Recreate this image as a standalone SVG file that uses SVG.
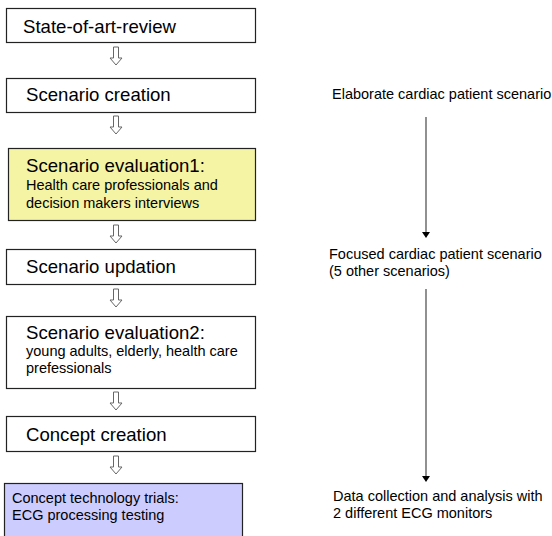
<svg xmlns="http://www.w3.org/2000/svg" width="552" height="536" viewBox="0 0 552 536">
<defs>
<style>
.box{stroke:#222;stroke-width:1.2}
.t{font-family:"Liberation Sans",Arial,sans-serif;fill:#000}
.big{font-size:18.6px}
.sm{font-size:14.5px}
.hol{fill:#fff;stroke:#666;stroke-width:1}
.con{stroke:#555;stroke-width:1.3;fill:none}
</style>
<path id="ha" d="M-2.5,0 H2.5 V11 H6 L0,18 L-6,11 H-2.5 Z"/>
</defs>
<rect width="552" height="536" fill="#fff"/>
<g id="n1"><rect class="box" x="6.5" y="8.5" width="249" height="34" fill="#fff"/><text class="t big" x="23" y="33">State-of-art-review</text></g>
<g id="n2"><rect class="box" x="6.5" y="78.5" width="249" height="34" fill="#fff"/><text class="t big" x="26" y="101">Scenario creation</text></g>
<g id="n3"><rect class="box" x="8.5" y="148.5" width="247" height="72" fill="#F4F4A4"/><text class="t big" x="26" y="172">Scenario evaluation1:</text><text class="t sm" x="26" y="190">Health care professionals and</text><text class="t sm" x="26" y="208">decision makers interviews</text></g>
<g id="n4"><rect class="box" x="6.5" y="249.5" width="249" height="35" fill="#fff"/><text class="t big" x="26" y="273">Scenario updation</text></g>
<g id="n5"><rect class="box" x="6.5" y="316.5" width="249" height="72" fill="#fff"/><text class="t big" x="26" y="339">Scenario evaluation2:</text><text class="t sm" x="26" y="356">young adults, elderly, health care</text><text class="t sm" x="26" y="373">prefessionals</text></g>
<g id="n6"><rect class="box" x="6.5" y="416.5" width="249" height="35" fill="#fff"/><text class="t big" x="26" y="441">Concept creation</text></g>
<g id="n7"><rect class="box" x="4.5" y="483.5" width="238" height="60" fill="#CCCCFF"/><text class="t sm" x="12" y="503">Concept technology trials:</text><text class="t sm" x="12" y="520">ECG processing testing</text></g>
<g id="r1"><text class="t sm" x="332" y="99">Elaborate cardiac patient scenario</text></g>
<g id="r2"><text class="t sm" x="329" y="259">Focused cardiac patient scenario</text><text class="t sm" x="329" y="276">(5 other scenarios)</text></g>
<g id="r3"><text class="t sm" x="333" y="501">Data collection and analysis with</text><text class="t sm" x="333" y="518">2 different ECG monitors</text></g>
<g id="connectors">
<use href="#ha" class="hol" x="116" y="47"/>
<use href="#ha" class="hol" x="116" y="116"/>
<use href="#ha" class="hol" x="116" y="225"/>
<use href="#ha" class="hol" x="116" y="289"/>
<use href="#ha" class="hol" x="116" y="392"/>
<use href="#ha" class="hol" x="116" y="456"/>
<line class="con" x1="426" y1="117" x2="426" y2="232"/>
<path d="M422,232 L430,232 L426,238 Z" fill="#000"/>
<line class="con" x1="426" y1="289" x2="426" y2="476"/>
<path d="M422,476 L430,476 L426,482 Z" fill="#000"/>
</g>
</svg>
